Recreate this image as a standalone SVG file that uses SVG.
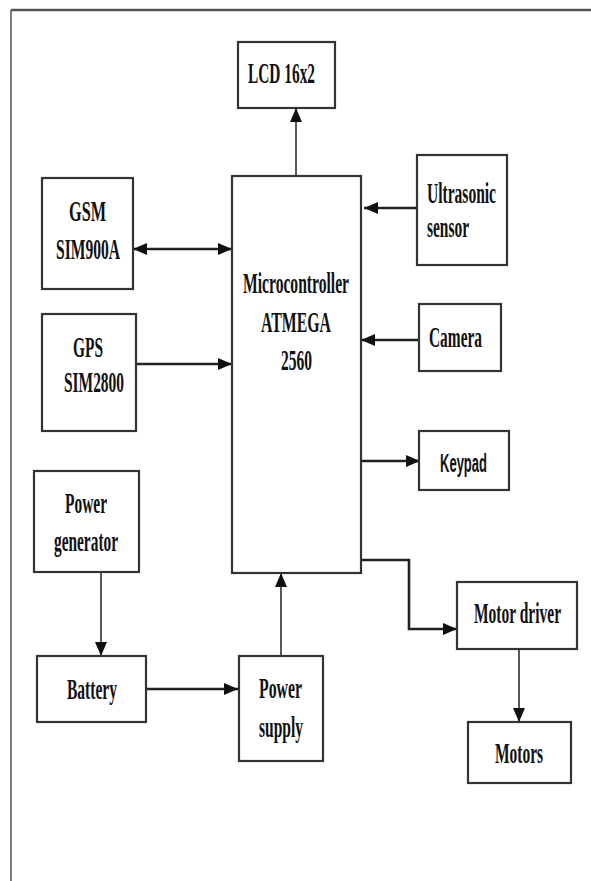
<svg xmlns="http://www.w3.org/2000/svg" width="591" height="881" viewBox="0 0 591 881">
<defs>
<marker id="ah" markerUnits="userSpaceOnUse" markerWidth="14" markerHeight="12" viewBox="0 0 14 12" refX="14" refY="6" orient="auto-start-reverse">
<path d="M0,0 L14,6 L0,12 Z" fill="#111"/>
</marker>
</defs>
<style>
.box{fill:#fff;stroke:#333;stroke-width:2.2}
.t{font-family:"Liberation Serif","Times New Roman",serif;font-weight:bold;font-size:30px;fill:#111}
.s{font-family:"Liberation Sans",Arial,sans-serif;font-weight:bold;font-size:26px;fill:#111}
.c{fill:none;stroke:#222}
.h{stroke-width:2.6}
.v{stroke-width:1.5}
.frame{stroke:#555;fill:none}
</style>
<rect width="591" height="881" fill="#fff"/>
<g id="frame">
<line class="frame" x1="11" y1="10" x2="591" y2="10" stroke-width="2.5"/>
<line class="frame" x1="11" y1="10" x2="11" y2="881" stroke-width="1.5"/>
</g>
<g id="connectors">
<line class="c v" x1="296" y1="176" x2="296" y2="108" marker-end="url(#ah)"/>
<line class="c h" x1="133" y1="249" x2="232" y2="249" marker-start="url(#ah)" marker-end="url(#ah)"/>
<line class="c h" x1="136" y1="364" x2="232" y2="364" marker-end="url(#ah)"/>
<line class="c h" x1="417" y1="208" x2="364" y2="208" marker-end="url(#ah)"/>
<line class="c h" x1="419" y1="340" x2="361" y2="340" marker-end="url(#ah)"/>
<line class="c h" x1="361" y1="461" x2="420" y2="461" marker-end="url(#ah)"/>
<polyline class="c h" points="361,560 409,560 409,629 457,629" marker-end="url(#ah)"/>
<line class="c v" x1="519" y1="649" x2="519" y2="722" marker-end="url(#ah)"/>
<line class="c v" x1="101" y1="572" x2="101" y2="656" marker-end="url(#ah)"/>
<line class="c h" x1="146" y1="689" x2="238" y2="689" marker-end="url(#ah)"/>
<line class="c v" x1="281" y1="656" x2="281" y2="573" marker-end="url(#ah)"/>
</g>
<g id="lcd">
<rect class="box" x="238" y="42" width="97" height="66"/>
<text class="t" x="248" y="83" textLength="67" lengthAdjust="spacingAndGlyphs">LCD 16x2</text>
</g>
<g id="micro">
<rect class="box" x="232" y="176" width="129" height="397"/>
<text class="t" x="243" y="293" textLength="106" lengthAdjust="spacingAndGlyphs">Microcontroller</text>
<text class="t" x="261" y="332" textLength="70" lengthAdjust="spacingAndGlyphs">ATMEGA</text>
<text class="t" x="281" y="370" textLength="31" lengthAdjust="spacingAndGlyphs">2560</text>
</g>
<g id="gsm">
<rect class="box" x="42" y="178" width="91" height="111"/>
<text class="t" x="69" y="221" textLength="37" lengthAdjust="spacingAndGlyphs">GSM</text>
<text class="t" x="56" y="259" textLength="64" lengthAdjust="spacingAndGlyphs">SIM900A</text>
</g>
<g id="gps">
<rect class="box" x="42" y="314" width="94" height="117"/>
<text class="t" x="73" y="357" textLength="30" lengthAdjust="spacingAndGlyphs">GPS</text>
<text class="t" x="64" y="392" textLength="60" lengthAdjust="spacingAndGlyphs">SIM2800</text>
</g>
<g id="ultrasonic">
<rect class="box" x="417" y="155" width="90" height="110"/>
<text class="t" x="427" y="203" textLength="69" lengthAdjust="spacingAndGlyphs">Ultrasonic</text>
<text class="t" x="427" y="237" textLength="42" lengthAdjust="spacingAndGlyphs">sensor</text>
</g>
<g id="camera">
<rect class="box" x="419" y="304" width="82" height="67"/>
<text class="t" x="429" y="347" textLength="53" lengthAdjust="spacingAndGlyphs">Camera</text>
</g>
<g id="keypad">
<rect class="box" x="419" y="431" width="90" height="59"/>
<text class="s" x="440" y="472" textLength="47" lengthAdjust="spacingAndGlyphs">Keypad</text>
</g>
<g id="motordriver">
<rect class="box" x="457" y="582" width="120" height="67"/>
<text class="t" x="474" y="623" textLength="87" lengthAdjust="spacingAndGlyphs">Motor driver</text>
</g>
<g id="motors">
<rect class="box" x="468" y="722" width="103" height="61"/>
<text class="t" x="495" y="763" textLength="48" lengthAdjust="spacingAndGlyphs">Motors</text>
</g>
<g id="generator">
<rect class="box" x="34" y="471" width="105" height="101"/>
<text class="t" x="65" y="513" textLength="42" lengthAdjust="spacingAndGlyphs">Power</text>
<text class="t" x="54" y="551" textLength="64" lengthAdjust="spacingAndGlyphs">generator</text>
</g>
<g id="battery">
<rect class="box" x="37" y="656" width="109" height="66"/>
<text class="t" x="67" y="699" textLength="50" lengthAdjust="spacingAndGlyphs">Battery</text>
</g>
<g id="powersupply">
<rect class="box" x="239" y="656" width="84" height="105"/>
<text class="t" x="259" y="698" textLength="43" lengthAdjust="spacingAndGlyphs">Power</text>
<text class="t" x="259" y="737" textLength="44" lengthAdjust="spacingAndGlyphs">supply</text>
</g>
</svg>
